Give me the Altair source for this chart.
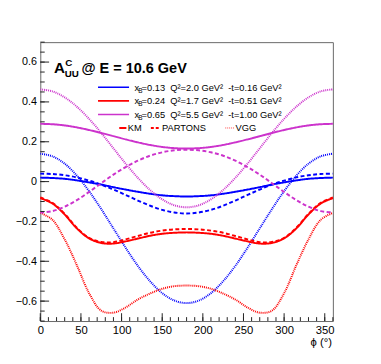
import altair as alt
import pandas as pd

phi = [0, 15, 30, 45, 60, 75, 90, 105, 120, 135, 150, 165, 180,
       195, 210, 225, 240, 255, 270, 285, 300, 315, 330, 345, 360]

blue_km = [0.020, 0.018, 0.014, 0.006, -0.004, -0.015, -0.028, -0.040, -0.051, -0.061, -0.069, -0.073, -0.075,
           -0.073, -0.069, -0.061, -0.051, -0.040, -0.028, -0.015, -0.004, 0.006, 0.014, 0.018, 0.020]
blue_partons = [0.040, 0.038, 0.032, 0.021, 0.005, -0.015, -0.040, -0.067, -0.095, -0.121, -0.142, -0.155, -0.160,
                -0.155, -0.142, -0.121, -0.095, -0.067, -0.040, -0.015, 0.005, 0.021, 0.032, 0.038, 0.040]
blue_vgg = [0.140, 0.127, 0.090, 0.030, -0.048, -0.138, -0.235, -0.332, -0.423, -0.500, -0.560, -0.597, -0.610,
            -0.597, -0.560, -0.500, -0.423, -0.332, -0.235, -0.138, -0.048, 0.030, 0.090, 0.127, 0.140]
red_km = [-0.083, -0.110, -0.165, -0.235, -0.285, -0.308, -0.311, -0.300, -0.286, -0.272, -0.262, -0.257, -0.255,
          -0.257, -0.262, -0.272, -0.286, -0.300, -0.311, -0.308, -0.285, -0.235, -0.165, -0.110, -0.083]
red_partons = [-0.080, -0.107, -0.162, -0.232, -0.283, -0.303, -0.304, -0.290, -0.273, -0.257, -0.246, -0.240, -0.238,
               -0.240, -0.246, -0.257, -0.273, -0.290, -0.304, -0.303, -0.283, -0.232, -0.162, -0.107, -0.080]
red_vgg = [-0.157, -0.192, -0.290, -0.420, -0.560, -0.648, -0.658, -0.632, -0.592, -0.562, -0.538, -0.525, -0.522,
           -0.525, -0.538, -0.562, -0.592, -0.632, -0.658, -0.648, -0.560, -0.420, -0.290, -0.192, -0.157]
mag_km = [0.290, 0.288, 0.282, 0.272, 0.259, 0.244, 0.228, 0.212, 0.197, 0.184, 0.174, 0.168, 0.166,
          0.168, 0.174, 0.184, 0.197, 0.212, 0.228, 0.244, 0.259, 0.272, 0.282, 0.288, 0.290]
mag_partons = [-0.155, -0.148, -0.126, -0.093, -0.052, -0.008, 0.035, 0.073, 0.105, 0.130, 0.147, 0.157, 0.160,
               0.157, 0.147, 0.130, 0.105, 0.073, 0.035, -0.008, -0.052, -0.093, -0.126, -0.148, -0.155]
mag_vgg = [0.463, 0.453, 0.423, 0.376, 0.315, 0.244, 0.167, 0.090, 0.019, -0.042, -0.089, -0.119, -0.129,
           -0.119, -0.089, -0.042, 0.019, 0.090, 0.167, 0.244, 0.315, 0.376, 0.423, 0.453, 0.463]

groups = ["b", "r", "m"]
group_colors = ["#0000ff", "#ff0000", "#cc33cc"]
models = ["KM", "PARTONS", "VGG"]
legend_texts = ["=0.13\u00a0\u00a0Q\u00b2=2.0 GeV\u00b2\u00a0\u00a0-t=0.16 GeV\u00b2",
                "=0.24\u00a0\u00a0Q\u00b2=1.7 GeV\u00b2\u00a0\u00a0-t=0.51 GeV\u00b2",
                "=0.65\u00a0\u00a0Q\u00b2=5.5 GeV\u00b2\u00a0\u00a0-t=1.00 GeV\u00b2"]

x_major = [0, 50, 100, 150, 200, 250, 300, 350]
x_minor = list(range(0, 361, 10))
y_major = [-0.6, -0.4, -0.2, 0.0, 0.2, 0.4, 0.6]
y_minor = [round(-0.7 + 0.05 * i, 2) for i in range(29)]

series = {
    ("b", "KM"): blue_km, ("b", "PARTONS"): blue_partons, ("b", "VGG"): blue_vgg,
    ("r", "KM"): red_km, ("r", "PARTONS"): red_partons, ("r", "VGG"): red_vgg,
    ("m", "KM"): mag_km, ("m", "PARTONS"): mag_partons, ("m", "VGG"): mag_vgg,
}
rows = []
for (g, m), vals in series.items():
    for p, v in zip(phi, vals):
        rows.append({"phi": p, "val": v, "grp": g, "model": m, "key": g + m})
df = pd.DataFrame(rows)

W, H = 299, 285
FONT = "Liberation Sans"
xscale = alt.Scale(domain=[0, 360], nice=False, zero=False)
yscale = alt.Scale(domain=[-0.7, 0.7], nice=False, zero=False)

curves = alt.Chart(df).mark_line(interpolate="catmull-rom").encode(
    x=alt.X("phi:Q", scale=xscale, axis=alt.Axis(values=x_major, tickSize=0, domain=False, grid=False,
                                                 labelFont=FONT, labelFontSize=11.5, labelColor="black",
                                                 labelPadding=4, title=None, labelFlush=False)),
    y=alt.Y("val:Q", scale=yscale, axis=alt.Axis(values=y_major, tickSize=0, domain=False, grid=False,
                                                 labelFont=FONT, labelFontSize=11, labelColor="black",
                                                 labelPadding=4, title=None,
                                                 labelExpr="abs(datum.value) < 1e-9 ? '0' : format(datum.value, '.1f')")),
    color=alt.Color("grp:N", scale=alt.Scale(domain=groups, range=group_colors), legend=None),
    strokeDash=alt.StrokeDash("model:N", scale=alt.Scale(domain=models, range=[[1, 0], [4, 2.5], [1, 1]]), legend=None),
    strokeWidth=alt.StrokeWidth("model:N", scale=alt.Scale(domain=models, range=[2, 2, 1]), legend=None),
    opacity=alt.Opacity("model:N", scale=alt.Scale(domain=models, range=[1, 1, 0.75]), legend=None),
    detail="key:N",
)

xmaj = alt.Chart(pd.DataFrame({"t": x_major})).mark_rule(color="#222", strokeWidth=1).encode(
    x=alt.X("t:Q", scale=xscale), y=alt.value(H), y2=alt.value(H - 8))
xmin = alt.Chart(pd.DataFrame({"t": x_minor})).mark_rule(color="#222", strokeWidth=1).encode(
    x=alt.X("t:Q", scale=xscale), y=alt.value(H), y2=alt.value(H - 4))
ymaj = alt.Chart(pd.DataFrame({"t": y_major})).mark_rule(color="#222", strokeWidth=1).encode(
    y=alt.Y("t:Q", scale=yscale), x=alt.value(0), x2=alt.value(9))
ymin = alt.Chart(pd.DataFrame({"t": y_minor})).mark_rule(color="#222", strokeWidth=1).encode(
    y=alt.Y("t:Q", scale=yscale), x=alt.value(0), x2=alt.value(4.5))

one = pd.DataFrame({"a": [0]})


def txt(s, x, y, size, bold=False, align="left", baseline="alphabetic", color="black"):
    return alt.Chart(pd.DataFrame({"s": [s]})).mark_text(
        align=align, baseline=baseline, font=FONT, fontSize=size,
        fontWeight="bold" if bold else "normal", color=color
    ).encode(text="s:N", x=alt.value(x), y=alt.value(y))


def lrule(x1, x2, y, color, width, dash, opacity=1):
    return alt.Chart(one).mark_rule(color=color, strokeWidth=width, strokeDash=dash, opacity=opacity).encode(
        x=alt.value(x1), x2=alt.value(x2), y=alt.value(y))


layers = [curves, xmaj, xmin, ymaj, ymin]
# title
layers += [txt("A", 14, 32, 15.5, bold=True), txt("C", 25.5, 24, 10, bold=True),
           txt("UU", 25, 35.5, 10, bold=True), txt("@ E = 10.6 GeV", 42, 32, 14.8, bold=True)]
# legend rows
row_y = [46, 60, 74]
for yy, col, t in zip(row_y, group_colors, legend_texts):
    layers.append(lrule(59, 90.7, yy, col, 1.6, [1, 0]))
    layers.append(txt("x", 96.3, yy + 3.5, 9.5))
    layers.append(txt("B", 100.2, yy + 5.5, 6.5))
    layers.append(txt(t, 103.5, yy + 3.5, 9.5))
ly = 87.7
layers += [lrule(80.7, 88, ly, "#ff0000", 2, [1, 0]), txt("KM", 89.5, ly + 3.5, 9.5),
           lrule(113, 122.5, ly, "#ff0000", 2, [3, 2]), txt("PARTONS", 124.5, ly + 3.5, 9.5),
           lrule(189, 199, ly, "#ff0000", 1, [1, 1], 0.75), txt("VGG", 199.5, ly + 3.5, 9.5)]
# axis title
layers += [txt("\u03d5  (\u00b0)", 298, 310, 11.5, align="right")]

chart = alt.layer(*layers).properties(
    width=W, height=H,
    autosize=alt.AutoSizeParams(type="none"),
    padding={"left": 33, "top": 31, "right": 41, "bottom": 40},
).configure_view(stroke="#666", strokeWidth=1).configure_axis(labelFont=FONT)

chart.save("out.html", embed_options={"renderer": "svg", "actions": False})
